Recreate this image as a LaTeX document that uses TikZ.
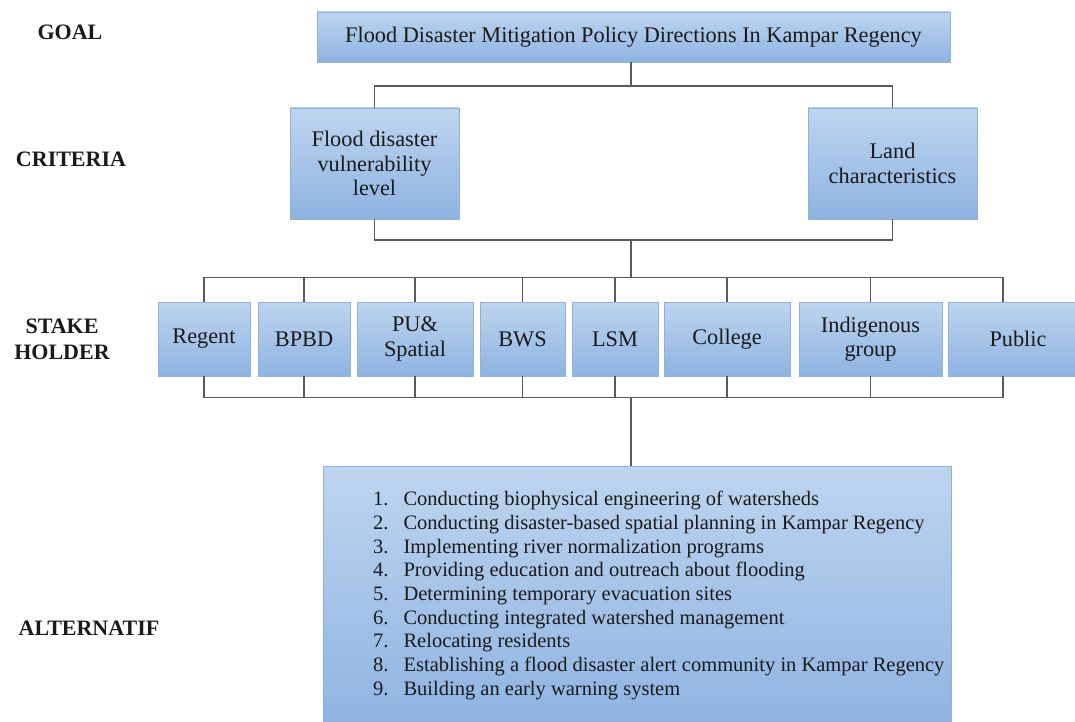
\documentclass[tikz,border=0pt]{standalone}
\usepackage{fontspec}
\setmainfont{Liberation Serif}
\usetikzlibrary{calc}
\definecolor{boxtop}{HTML}{BED5EF}
\definecolor{boxbot}{HTML}{8EB3E2}
\definecolor{boxline}{HTML}{92B1D8}
\definecolor{conncol}{HTML}{5A5A5A}
\definecolor{txt}{HTML}{1A1A1A}
\tikzset{
  box/.style={draw=boxline, line width=0.8pt, top color=boxtop, bottom color=boxbot,
    align=center, inner sep=0pt, text=txt, font=\fontsize{22.3}{24.5}\selectfont},
  conn/.style={draw=conncol, line width=1.3pt},
  lab/.style={font=\fontsize{22}{26}\selectfont\bfseries, text=txt, align=center, inner sep=0pt}
}
\begin{document}
\begin{tikzpicture}[x=1pt,y=-1pt]
\useasboundingbox[fill=white] (0,0) rectangle (1075,722);
% labels
\node[lab] (lgoal) at (70,32) {GOAL};
\node[lab] (lcrit) at (71,159) {CRITERIA};
\node[lab] (lstake) at (62,339) {STAKE\\HOLDER};
\node[lab] (lalt) at (89,628) {ALTERNATIF};
% goal
\node[box, minimum width=633pt, minimum height=50pt] (goal) at (633.5,37) {Flood Disaster Mitigation Policy Directions In Kampar Regency};
% criteria
\node[box, minimum width=169pt, minimum height=111pt] (crit1) at (374.5,163.5) {Flood disaster\\vulnerability\\level};
\node[box, minimum width=169pt, minimum height=111pt] (crit2) at (892.5,163.5) {Land\\characteristics};
% stakeholders
\node[box, minimum width=92pt, minimum height=74pt] (regent) at (204,339) {Regent};
\node[box, minimum width=92pt, minimum height=74pt] (bpbd) at (304,339) {BPBD};
\node[box, minimum width=116pt, minimum height=74pt] (pu) at (415,339) {PU\&\\Spatial};
\node[box, minimum width=85pt, minimum height=74pt] (bws) at (522.5,339) {BWS};
\node[box, minimum width=86pt, minimum height=74pt] (lsm) at (615,339) {LSM};
\node[box, minimum width=126pt, minimum height=74pt] (college) at (727,339) {College};
\node[box, minimum width=143pt, minimum height=74pt] (indig) at (870.5,339) {Indigenous\\group};
\node[box, minimum width=127pt, minimum height=74pt] (public) at (1011.5,339) {\hspace*{13pt}Public};
% alternatives
\node[box, minimum width=628pt, minimum height=262pt] (alt) at (637,597) {};
\node[anchor=north west, inner sep=0pt, text=txt, font=\fontsize{20.5}{23.7}\selectfont] (altlist) at (373,489)
{\begin{tabular}{@{}l@{\hspace{15pt}}l@{}}
1. & Conducting biophysical engineering of watersheds\\
2. & Conducting disaster-based spatial planning in Kampar Regency\\
3. & Implementing river normalization programs\\
4. & Providing education and outreach about flooding\\
5. & Determining temporary evacuation sites\\
6. & Conducting integrated watershed management\\
7. & Relocating residents\\
8. & Establishing a flood disaster alert community in Kampar Regency\\
9. & Building an early warning system
\end{tabular}};
% coordinates
\coordinate (g1) at (631,62);
\coordinate (g2) at (631,86);
\coordinate (c1) at (631,240);
\coordinate (c2) at (631,278);
\coordinate (ptop) at ($(public.north)+(-8.5,0)$);
\coordinate (pbot) at ($(public.south)+(-8.5,0)$);
\coordinate (s1) at (631,397);
% goal -> criteria
\draw[conn] (g1) -- (g2);
\draw[conn] (crit1.north) |- (g2) -| (crit2.north);
% criteria -> stakeholders
\draw[conn] (crit1.south) |- (c1) -| (crit2.south);
\draw[conn] (c1) -- (c2);
\draw[conn] (regent.north) |- ($(ptop)+(0,-24)$) -- (ptop);
\foreach \n in {bpbd,pu,bws,lsm,college,indig}
  \draw[conn] (\n.north) -- ++(0,-24);
% stakeholders -> alternatives
\draw[conn] (regent.south) |- ($(pbot)+(0,21)$) -- (pbot);
\foreach \n in {bpbd,pu,bws,lsm,college,indig}
  \draw[conn] (\n.south) -- ++(0,21);
\draw[conn] (s1) -- (alt.north -| s1);
\end{tikzpicture}
\end{document}
